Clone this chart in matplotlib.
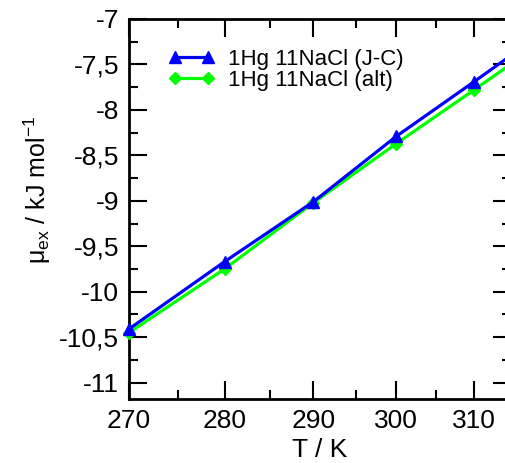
import numpy as np
import matplotlib
matplotlib.use("Agg")
import matplotlib.pyplot as plt
from matplotlib.ticker import FixedLocator, FuncFormatter

plt.rcParams['font.family'] = ['Liberation Sans', 'DejaVu Sans']
plt.rcParams['mathtext.fontset'] = 'custom'
plt.rcParams['mathtext.rm'] = 'Liberation Sans'
plt.rcParams['mathtext.it'] = 'Liberation Sans'

# data
T = [270, 280, 290, 300, 310, 320]
mu_jc = [-10.41, -9.67, -9.01, -8.29, -7.69, -7.12]
mu_alt = [-10.45, -9.75, -9.02, -8.37, -7.78, -7.22]

xticks = [270, 280, 290, 300, 310]
xminor = [275, 285, 295, 305]
yticks = [-7, -7.5, -8, -8.5, -9, -9.5, -10, -10.5, -11]


def fwd(t):
    t = np.asarray(t, dtype=float)
    with np.errstate(divide='ignore'):
        return -1.0 / t


def inv(u):
    u = np.asarray(u, dtype=float)
    with np.errstate(divide='ignore'):
        return -1.0 / u


fig = plt.figure(figsize=(5.06, 4.63), dpi=100)
ax = fig.add_axes([129 / 506, 64 / 463, 382 / 506, 380 / 463])
ax.set_xscale('function', functions=(fwd, inv))

l2, = ax.plot(T, mu_alt, color='#00ff00', lw=2.3, marker='D', ms=6,
              clip_on=False, zorder=3, label='1Hg 11NaCl (alt)')
l1, = ax.plot(T, mu_jc, color='#0000ff', lw=2.3, marker='^', ms=8,
              clip_on=False, zorder=4, label='1Hg 11NaCl (J-C)')

ax.set_xlim(270, 315)
ax.set_ylim(-11.18, -7)

ax.xaxis.set_major_locator(FixedLocator(xticks))
ax.xaxis.set_minor_locator(FixedLocator(xminor))
ax.xaxis.set_major_formatter(FuncFormatter(lambda v, p: '%d' % round(v)))
ax.xaxis.set_minor_formatter(FuncFormatter(lambda v, p: ''))
ax.yaxis.set_major_locator(FixedLocator(yticks))
ax.yaxis.set_minor_locator(FixedLocator(np.arange(-11.25, -6.9, 0.25)))
ax.yaxis.set_major_formatter(FuncFormatter(lambda v, p: ('%g' % v).replace('.', ',')))

ax.tick_params(which='both', direction='in', top=True, right=True, labelsize=19, width=1.5)
ax.tick_params(which='major', length=13, pad=7)
ax.tick_params(which='minor', length=6.5)
for s in ax.spines.values():
    s.set_linewidth(2)

ax.set_xlabel('T / K', fontsize=19, labelpad=4)
ax.set_ylabel(r'μ$_{\mathrm{ex}}$ / kJ mol$^{\mathrm{-1}}$', fontsize=18)
ax.yaxis.set_label_coords(-0.2, 0.55)

ax.legend(handles=[l1, l2], loc='upper left', bbox_to_anchor=(0.102, 0.922),
          frameon=False, fontsize=16, numpoints=2, handlelength=2.1,
          handletextpad=0.6, labelspacing=0.0, borderpad=0, borderaxespad=0)

fig.savefig('out.png', dpi=100)
